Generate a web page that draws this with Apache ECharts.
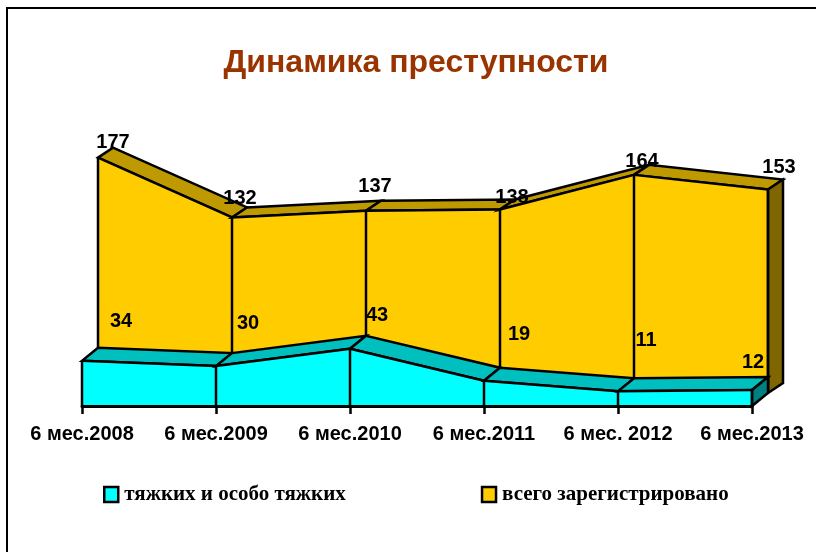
<!DOCTYPE html>
<html>
<head>
<meta charset="utf-8">
<style>html,body{margin:0;padding:0;background:#fff}#c{width:816px;height:552px}</style>
<script src="https://cdn.jsdelivr.net/npm/echarts@6/dist/echarts.min.js"></script>
</head>
<body>
<div id="c"></div>
<script>
const categories = ['6 мес.2008','6 мес.2009','6 мес.2010','6 мес.2011','6 мес. 2012','6 мес.2013'];
const severe = [34,30,43,19,11,12];
const total = [177,132,137,138,164,153];
const severeName = 'тяжких и особо тяжких';
const totalName = 'всего зарегистрировано';
const titleText = 'Динамика преступности';

// 3D look: pixel depth of each ribbon
const cyanDepth = [16,-13];
const goldPlane = [16,-13];
const goldDepth = [15,-10];
// hand placed data label nudges, as in the reference
const severeNudge = [[23,-26],[16,-30],[11,-20],[19,-33],[12,-38],[-15,-15]];
const totalNudge = [[15,-15],[8,-19],[9,-24],[12,-12],[8,-13],[11,-22]];

const stroke = {stroke:'#000',lineWidth:2.5,lineJoin:'miter'};
const shift = (p,d)=>[p[0]+d[0],p[1]+d[1]];

function ribbon(values, plane, depth, front, top, side){
  return function(params, api){
    const i = params.dataIndex;
    const base = shift(api.coord([i,0]),plane);
    const p = shift(api.coord([i,values[i]]),plane);
    const children = [];
    if(i < values.length-1){
      const nb = shift(api.coord([i+1,0]),plane);
      const n = shift(api.coord([i+1,values[i+1]]),plane);
      children.push({type:'polygon',shape:{points:[p,n,shift(n,depth),shift(p,depth)]},style:Object.assign({fill:top},stroke)});
      children.push({type:'polygon',shape:{points:[base,p,n,nb]},style:{fill:front}});
      children.push({type:'polyline',shape:{points:[p,n]},style:Object.assign({fill:null},stroke)});
    } else {
      children.push({type:'polygon',shape:{points:[p,shift(p,depth),shift(base,depth),base]},style:Object.assign({fill:side},stroke)});
    }
    children.push({type:'line',shape:{x1:p[0],y1:p[1],x2:base[0],y2:base[1]},style:stroke});
    return {type:'group',children:children};
  };
}
function labels(values, plane, nudge){
  return function(params, api){
    const i = params.dataIndex;
    const p = shift(shift(api.coord([i,values[i]]),plane),nudge[i]);
    return {type:'text',x:p[0],y:p[1],style:{text:String(values[i]),fill:'#000',
      font:'bold 20px "Liberation Sans"',align:'center',verticalAlign:'middle'}};
  };
}
const idx = categories.map((c,i)=>[i,0]);

const chart = echarts.init(document.getElementById('c'));
chart.setOption({
  animation:false,
  backgroundColor:'#fff',
  title:{text:titleText,left:411,top:42,textAlign:'center',
    textStyle:{color:'#993300',fontFamily:'Liberation Sans',fontWeight:'bold',fontSize:32}},
  legend:{left:98,top:479,itemWidth:14,itemHeight:15,itemGap:135,icon:'rect',
    data:[severeName,totalName],selectedMode:false,
    itemStyle:{borderColor:'#000',borderWidth:2.5},
    textStyle:{color:'#000',fontFamily:'Liberation Serif',fontWeight:'bold',fontSize:21,padding:[0,0,0,1]}},
  grid:{left:82,right:64,top:140,bottom:146},
  xAxis:{type:'category',data:categories,boundaryGap:false,
    axisLine:{lineStyle:{color:'#000',width:3}},
    axisTick:{show:true,length:8,alignWithLabel:true,lineStyle:{color:'#000',width:2.5}},
    axisLabel:{color:'#000',fontFamily:'Liberation Sans',fontWeight:'bold',fontSize:20,margin:18,interval:0},
    z:5},
  yAxis:{type:'value',min:0,max:200,show:false},
  series:[
    {name:totalName,type:'custom',data:idx,clip:false,z:2,itemStyle:{color:'#FFCC00'},
      renderItem:ribbon(total,goldPlane,goldDepth,'#FFCC00','#BF9900','#806600')},
    {name:severeName,type:'custom',data:idx,clip:false,z:3,itemStyle:{color:'#00FFFF'},
      renderItem:ribbon(severe,[0,0],cyanDepth,'#00FFFF','#00BFBF','#008080')},
    {name:'labelsTotal',type:'custom',data:idx,clip:false,z:10,silent:true,renderItem:labels(total,goldPlane,totalNudge)},
    {name:'labelsSevere',type:'custom',data:idx,clip:false,z:10,silent:true,renderItem:labels(severe,cyanDepth,severeNudge)}
  ],
  graphic:[
    {type:'line',z:20,shape:{x1:6,y1:8,x2:816,y2:8},style:{stroke:'#000',lineWidth:2}},
    {type:'line',z:20,shape:{x1:7,y1:8,x2:7,y2:552},style:{stroke:'#000',lineWidth:2}}
  ]
});
</script>
</body>
</html>
